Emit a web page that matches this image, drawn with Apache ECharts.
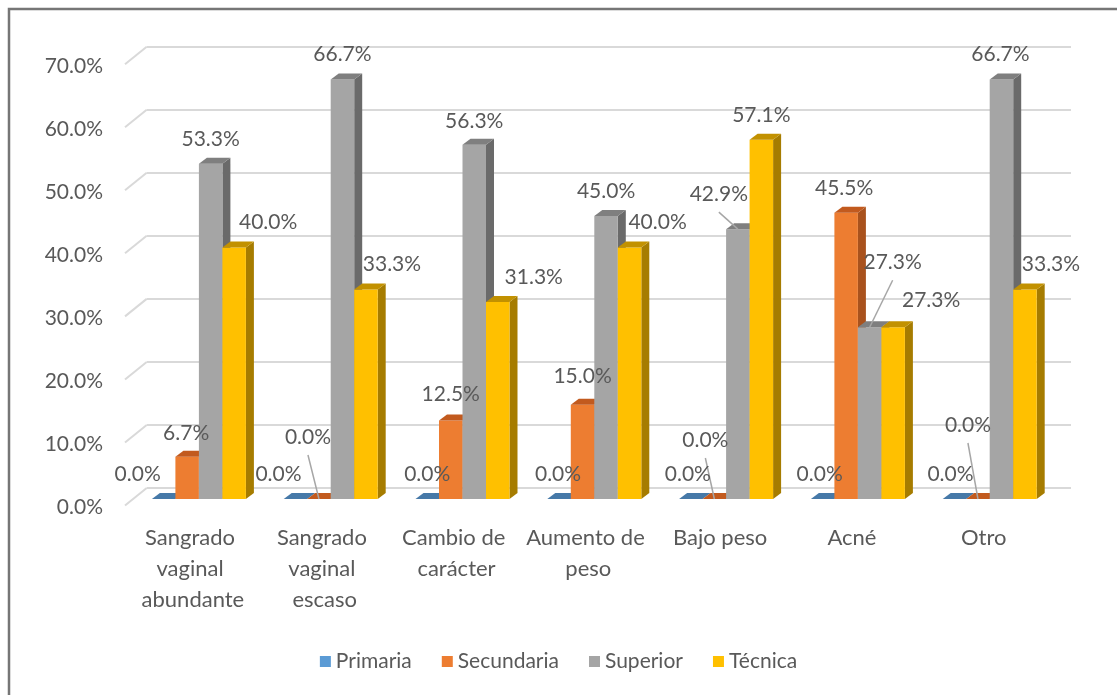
<!DOCTYPE html>
<html>
<head>
<meta charset="utf-8">
<script src="https://cdn.jsdelivr.net/npm/echarts@6/dist/echarts.min.js"></script>
<style>
  html, body { margin: 0; padding: 0; background: #fff; }
  #chart { width: 1117px; height: 695px; }
</style>
</head>
<body>
<div id="chart"></div>
<script>
// --- data ---
const CATEGORIES = ['Sangrado vaginal abundante', 'Sangrado vaginal escaso', 'Cambio de carácter',
                    'Aumento de peso', 'Bajo peso', 'Acné', 'Otro'];
const SERIES_NAMES = ['Primaria', 'Secundaria', 'Superior', 'Técnica'];
const PRIMARIA   = [0, 0, 0, 0, 0, 0, 0];
const SECUNDARIA = [6.7, 0, 12.5, 15.0, 0, 45.5, 0];
const SUPERIOR   = [53.3, 66.7, 56.3, 45.0, 42.9, 27.3, 66.7];
const TECNICA    = [40.0, 33.3, 31.3, 40.0, 57.1, 27.3, 33.3];
const Y_TICKS    = [0, 10, 20, 30, 40, 50, 60, 70];

// --- look ---
const FONT = 'Lato, "Open Sans", sans-serif';
const TEXT = '#595959';
const COLORS = [
  { front: '#5b9bd5', side: '#3d6e9c', top: '#4679a8' },
  { front: '#ed7d31', side: '#a9521d', top: '#c25a1e' },
  { front: '#a5a5a5', side: '#6a6a6a', top: '#7f7f7f' },
  { front: '#ffc000', side: '#a67c00', top: '#c29100' },
];
const BAR_W = 23.5, DX = 8, DY = 6;      // bar front width + depth
const STUB_DX = 21.7, STUB_DY = 17.5;    // wall-to-front perspective stubs
const LABEL_GAP = 25;
// per-label nudges [dx, dy, leaderLine]
const LABEL_NUDGE = [
  [[-26, 0], [-17, 0], [0, 0], [-1, 0], [-3, 0], [-3, 0], [-4, 0]],
  [[-1, 1], [-11, -37, 1], [0, -1], [0, -3], [-9, -34, 1], [-2, 0], [-10, -49, 1]],
  [[0, 0], [0, 0], [0, 1], [0, 0], [-19, -10, 1], [23, -40, 1], [-1, 0]],
  [[34, 0], [26, 0], [36, 0], [28, 0], [0, 0], [38, -2], [26, 0]],
];

function barSeries(name, values, idx) {
  const c = COLORS[idx];
  const nudges = LABEL_NUDGE[idx];
  return {
    name, type: 'custom', xAxisIndex: 2, yAxisIndex: 2,
    itemStyle: { color: c.front },
    data: values.map((v, i) => [i, v]),
    encode: { x: 0, y: 1 },
    renderItem(params, api) {
      const i = api.value(0), v = api.value(1);
      const base = api.coord([i, 0]);
      const top  = api.coord([i, v]);
      const x0 = base[0] + (idx - 2) * BAR_W, x1 = x0 + BAR_W;
      const yb = base[1], yt = top[1];
      const mid = (x0 + x1) / 2;
      const children = [
        { type: 'polygon', shape: { points: [[x1, yt], [x1 + DX, yt - DY], [x1 + DX, yb - DY], [x1, yb]] },
          style: { fill: c.side } },
        { type: 'rect', shape: { x: x0, y: yt, width: BAR_W, height: yb - yt }, style: { fill: c.front } },
        { type: 'polygon', shape: { points: [[x0, yt], [x0 + DX, yt - DY], [x1 + DX, yt - DY], [x1, yt]] },
          style: { fill: c.top } },
      ];
      const n = nudges[i];
      const lx = mid + n[0], ly = yt - LABEL_GAP + n[1];
      if (n[2]) {
        children.push({ type: 'line', z2: 50, shape: { x1: lx, y1: ly + 18, x2: mid, y2: yt },
          style: { stroke: '#a6a6a6', lineWidth: 1.5 } });
      }
      children.push({ type: 'text', z2: 100, x: lx, y: ly,
        style: { text: v.toFixed(1) + '%', fill: TEXT, fontSize: 21, fontFamily: FONT,
                 align: 'center', verticalAlign: 'middle' } });
      return { type: 'group', children };
    },
  };
}

const chart = echarts.init(document.getElementById('chart'), null, { renderer: 'canvas' });

const hidden = { show: false };
chart.setOption({
  animation: false,
  backgroundColor: '#fff',
  textStyle: { fontFamily: FONT },
  graphic: [{
    type: 'rect', silent: true,
    shape: { x: 9, y: 9, width: 1400, height: 900 },
    style: { fill: 'none', stroke: '#767676', lineWidth: 2.5 },
  }],
  legend: {
    data: SERIES_NAMES,
    top: 646, left: 'center',
    icon: 'rect', itemWidth: 11, itemHeight: 11, itemGap: 30,
    textStyle: { color: TEXT, fontSize: 21, fontFamily: FONT },
  },
  grid: [
    { left: 146.7, right: 46, top: 46.7, bottom: 207 },     // back wall
    { left: 125, right: 46, top: 66.5, bottom: 187.5 },     // front edge (tick labels)
    { left: 133, right: 61.4, top: 58.7, bottom: 196 },     // bars
    { left: 127, right: 67.4, top: 58.7, bottom: 196 },     // category labels
  ],
  xAxis: [
    { gridIndex: 0, type: 'value', min: 0, max: 1, show: false },
    { gridIndex: 1, type: 'value', min: 0, max: 1, show: false },
    { gridIndex: 2, type: 'category', data: CATEGORIES, show: false },
    { gridIndex: 3, type: 'category', data: CATEGORIES,
      axisLine: hidden, axisTick: hidden, splitLine: hidden,
      axisLabel: { interval: 0, color: TEXT, fontSize: 22, fontFamily: FONT, lineHeight: 31,
                   margin: 23, width: 128, overflow: 'break' } },
  ],
  yAxis: [
    { gridIndex: 0, type: 'value', min: 0, max: 70, interval: 10,
      axisLine: hidden, axisTick: hidden, axisLabel: hidden,
      splitLine: { lineStyle: { color: '#d9d9d9', width: 2 } } },
    { gridIndex: 1, type: 'value', min: 0, max: 70, interval: 10,
      axisLine: hidden, axisTick: hidden, splitLine: hidden,
      axisLabel: { color: TEXT, fontSize: 21, fontFamily: FONT, margin: 22,
                   formatter: v => v.toFixed(1) + '%' } },
    { gridIndex: 2, type: 'value', min: 0, max: 70, show: false },
    { gridIndex: 3, type: 'value', min: 0, max: 70, show: false },
  ],
  series: [
    {
      type: 'custom', xAxisIndex: 0, yAxisIndex: 0, silent: true,
      data: Y_TICKS.map(v => [0, v]),
      encode: { x: 0, y: 1 },
      renderItem(params, api) {
        const p = api.coord([0, api.value(1)]);
        return { type: 'line', shape: { x1: p[0] - STUB_DX, y1: p[1] + STUB_DY, x2: p[0], y2: p[1] },
                 style: { stroke: '#d9d9d9', lineWidth: 2 } };
      },
    },
    barSeries(SERIES_NAMES[0], PRIMARIA, 0),
    barSeries(SERIES_NAMES[1], SECUNDARIA, 1),
    barSeries(SERIES_NAMES[2], SUPERIOR, 2),
    barSeries(SERIES_NAMES[3], TECNICA, 3),
  ],
});
</script>
</body>
</html>
